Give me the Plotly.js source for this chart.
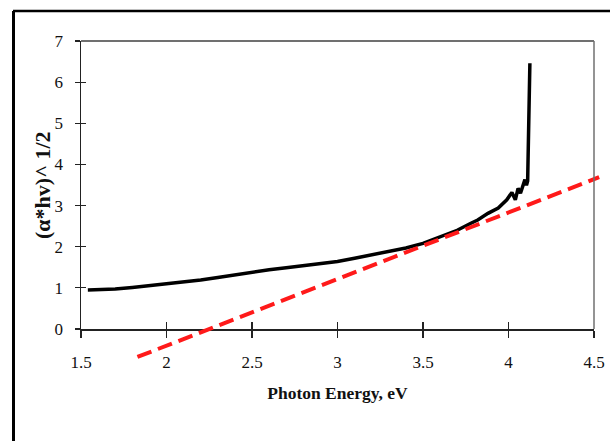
<!DOCTYPE html>
<html>
<head>
<meta charset="utf-8">
<script src="https://cdn.plot.ly/plotly-3.0.1.min.js"></script>
<style>
html,body{margin:0;padding:0;background:#fff;}
#chart{width:610px;height:441px;}
</style>
</head>
<body>
<div id="chart"></div>
<script>
// ---- data ----
const energy = [1.54,1.6,1.7,1.8,1.9,2.0,2.1,2.2,2.3,2.4,2.5,2.6,2.7,2.8,2.9,3.0,3.1,3.2,3.3,3.4,3.5,3.6,3.7,3.78,3.82,3.88,3.94,3.99,4.02,4.04,4.056,4.07,4.096,4.105,4.112,4.125];
const absorb = [0.95,0.96,0.97,1.01,1.05,1.09,1.14,1.19,1.25,1.32,1.39,1.44,1.49,1.54,1.59,1.64,1.72,1.80,1.88,1.97,2.08,2.25,2.40,2.57,2.65,2.81,2.94,3.14,3.32,3.14,3.42,3.30,3.63,3.49,3.60,6.46];
const fitX = [1.83, 4.53];
const fitY = [-0.68, 3.69];
const xTicks = [1.5,2,2.5,3,3.5,4,4.5];
const xTickText = ['1.5','2','2.5','3','3.5','4','4.5'];
const yTicks = [0,1,2,3,4,5,6,7];
const yTickText = ['0','1','2','3','4','5','6','7'];
const xRange = [1.5, 4.5];
const yRange = [0, 7];
const xTitle = 'Photon Energy, eV';
const yTitle = '(α*hv)^ 1/2';

// ---- layout geometry (pixels) ----
const W = 610, H = 441;
const mL = 40, mR = 0, mT = 20, mB = 40;
const PW = W - mL - mR, PH = H - mT - mB;
const L = 81, R = 594, T = 41, B = 329;
const xdom = [(L - mL) / PW, (R - mL) / PW];
const ydom = [(H - mB - B) / PH, (H - mB - T) / PH];
const xPerPx = (xRange[1] - xRange[0]) / (R - L);
const yPerPx = (yRange[1] - yRange[0]) / (B - T);
const x3Range = [xRange[0] - (L - mL) * xPerPx, xRange[1] + (W - mR - R) * xPerPx];
const y3Range = [yRange[0] - (H - mB - B) * yPerPx, yRange[1] + (T - mT) * yPerPx];

const serif = 'Liberation Serif';

const traces = [
  {
    x: energy, y: absorb, mode: 'lines',
    line: {color: '#000000', width: 3.5},
    showlegend: false
  },
  {x: [], y: [], xaxis: 'x2', yaxis: 'y2', showlegend: false, hoverinfo: 'skip'},
  {
    x: fitX, y: fitY, xaxis: 'x3', yaxis: 'y3', mode: 'lines',
    line: {color: '#ff1a1a', width: 4, dash: '15px,7px'},
    hoverinfo: 'skip', showlegend: false
  }
];

const layout = {
  width: W, height: H,
  font: {family: serif, size: 17, color: '#111'},
  margin: {l: mL, r: mR, t: mT, b: mB, pad: 0},
  paper_bgcolor: '#ffffff',
  plot_bgcolor: 'rgba(0,0,0,0)',
  showlegend: false,
  xaxis: {
    domain: xdom, range: xRange, anchor: 'y',
    tickmode: 'array', tickvals: xTicks, ticktext: xTickText,
    ticks: 'outside', ticklen: 7, tickwidth: 1.2, tickcolor: '#222',
    showline: true, linecolor: '#222', linewidth: 1.5,
    showgrid: false, zeroline: false,
    tickfont: {family: serif, size: 17, color: '#111'},
    ticklabelstandoff: 10,
    title: {text: '<b>' + xTitle + '</b>', font: {family: serif, size: 17.5, color: '#111'}, standoff: 16},
    fixedrange: true
  },
  xaxis2: {
    domain: xdom, range: xRange, anchor: 'y', overlaying: 'x', side: 'bottom',
    tickmode: 'array', tickvals: xTicks,
    ticks: 'inside', ticklen: 7, tickwidth: 1.2, tickcolor: '#222',
    showticklabels: false, showline: false, showgrid: false, zeroline: false,
    fixedrange: true
  },
  yaxis: {
    domain: ydom, range: yRange, anchor: 'x',
    tickmode: 'array', tickvals: yTicks, ticktext: yTickText,
    ticks: 'outside', ticklen: 5, tickwidth: 1.2, tickcolor: '#222',
    showline: true, linecolor: '#222', linewidth: 1.5,
    showgrid: false, zeroline: false,
    tickfont: {family: serif, size: 17, color: '#111'},
    ticklabelstandoff: 8,
    fixedrange: true
  },
  yaxis2: {
    domain: ydom, range: yRange, anchor: 'x', overlaying: 'y', side: 'left',
    tickmode: 'array', tickvals: yTicks,
    ticks: 'inside', ticklen: 5, tickwidth: 1.2, tickcolor: '#222',
    showticklabels: false, showline: false, showgrid: false, zeroline: false,
    fixedrange: true
  },
  xaxis3: {
    domain: [0, 1], range: x3Range, anchor: 'y3',
    visible: false, fixedrange: true
  },
  yaxis3: {
    domain: [0, 1], range: y3Range, anchor: 'x3',
    visible: false, fixedrange: true
  },
  annotations: [
    {text: '<b>' + yTitle + '</b>', textangle: -90, showarrow: false,
     xref: 'paper', yref: 'paper', x: (42 - mL) / PW, y: (ydom[0] + ydom[1]) / 2,
     xanchor: 'center', yanchor: 'middle',
     font: {family: serif, size: 22, color: '#111'}}
  ],
  shapes: [
    {type: 'line', xref: 'paper', yref: 'paper', x0: xdom[0], x1: xdom[1], y0: ydom[1], y1: ydom[1],
     line: {color: '#707070', width: 2}},
    {type: 'line', xref: 'paper', yref: 'paper', x0: xdom[1], x1: xdom[1], y0: ydom[0], y1: ydom[1],
     line: {color: '#707070', width: 1.5}},
    {type: 'line', xref: 'paper', yref: 'paper',
     x0: (13 - mL) / PW, x1: 1.2, y0: (H - mB - 11) / PH, y1: (H - mB - 11) / PH,
     line: {color: '#000', width: 2.5}},
    {type: 'line', xref: 'paper', yref: 'paper',
     x0: (13.5 - mL) / PW, x1: (13.5 - mL) / PW, y0: -0.2, y1: (H - mB - 11) / PH,
     line: {color: '#000', width: 3}}
  ]
};

Plotly.newPlot('chart', traces, layout, {staticPlot: true, displayModeBar: false});
</script>
</body>
</html>
